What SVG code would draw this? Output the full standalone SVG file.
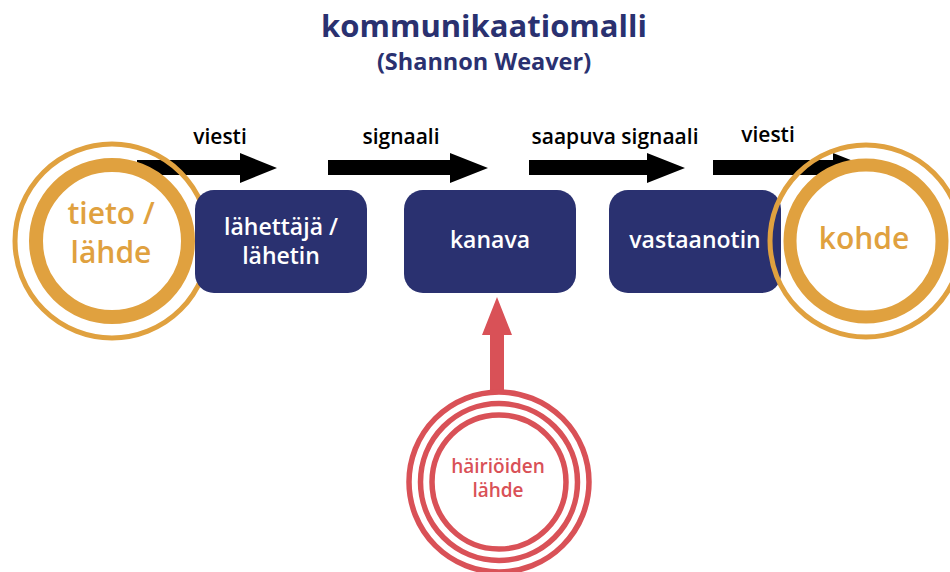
<svg xmlns="http://www.w3.org/2000/svg" width="950" height="572" viewBox="0 0 950 572">
<style>
.title{font-family:"Open Sans","DejaVu Sans",sans-serif;font-weight:700;fill:#2a3170;text-anchor:middle}
.lbl{font-family:"Open Sans","DejaVu Sans",sans-serif;font-weight:600;font-size:21px;fill:#000;text-anchor:middle}
.box{fill:#2a3170}
.boxt{font-family:"Open Sans","DejaVu Sans",sans-serif;font-weight:600;font-size:23px;fill:#fff;text-anchor:middle}
.orr{fill:none;stroke:#e0a13f}
.ort{font-family:"Open Sans","DejaVu Sans",sans-serif;font-weight:600;font-size:30px;fill:#e0a13f;text-anchor:middle}
.red{fill:none;stroke:#d95157;stroke-width:5.5}
.redt{font-family:"Open Sans","DejaVu Sans",sans-serif;font-weight:600;font-size:19px;fill:#d95157;text-anchor:middle}
</style>
<rect width="950" height="572" fill="#fff"/>
<g id="title">
<text class="title" x="484" y="37" font-size="31">kommunikaatiomalli</text>
<text class="title" x="484" y="70" font-size="23.5">(Shannon Weaver)</text>
</g>
<g id="connectors">
<polygon points="137,160 240,160 240,153 277,168 240,183 240,175 137,175" fill="#000"/>
<polygon points="328,160 450,160 450,153 488,168 450,183 450,175 328,175" fill="#000"/>
<polygon points="529,160 647,160 647,153 685,168 647,183 647,175 529,175" fill="#000"/>
<polygon points="713,160 833,160 833,153 871,168 833,183 833,175 713,175" fill="#000"/>
<polygon points="490,390 490,335 482,335 497,297 512,335 504,335 504,390" fill="#d95157"/>
<text class="lbl" x="220" y="144">viesti</text>
<text class="lbl" x="401" y="144">signaali</text>
<text class="lbl" x="615" y="144">saapuva signaali</text>
<text class="lbl" x="768" y="142">viesti</text>
</g>
<g id="tieto">
<circle cx="112" cy="241" r="97" class="orr" stroke-width="5"/>
<circle cx="112" cy="241" r="76" fill="#fff" stroke="#e0a13f" stroke-width="14"/>
<text class="ort" x="111" y="224">tieto /</text>
<text class="ort" x="111" y="263">lähde</text>
</g>
<g id="lahettaja">
<rect class="box" x="195" y="190" width="172" height="103" rx="19"/>
<text class="boxt" x="281" y="235">lähettäjä /</text>
<text class="boxt" x="281" y="264">lähetin</text>
</g>
<g id="kanava">
<rect class="box" x="404" y="190" width="172" height="103" rx="19"/>
<text class="boxt" x="490" y="248">kanava</text>
</g>
<g id="vastaanotin">
<rect class="box" x="609" y="190" width="172" height="103" rx="19"/>
<text class="boxt" x="695" y="248">vastaanotin</text>
</g>
<g id="kohde">
<circle cx="866" cy="241" r="96" class="orr" stroke-width="5"/>
<circle cx="866" cy="241" r="76" fill="#fff" stroke="#e0a13f" stroke-width="13"/>
<text class="ort" x="864" y="249">kohde</text>
</g>
<g id="hairio">
<circle cx="499" cy="482" r="90" class="red" fill="#fff"/>
<circle cx="499" cy="482" r="78.5" class="red"/>
<circle cx="499" cy="482" r="67" class="red"/>
<text class="redt" x="498" y="473">häiriöiden</text>
<text class="redt" x="498" y="497">lähde</text>
</g>
</svg>
